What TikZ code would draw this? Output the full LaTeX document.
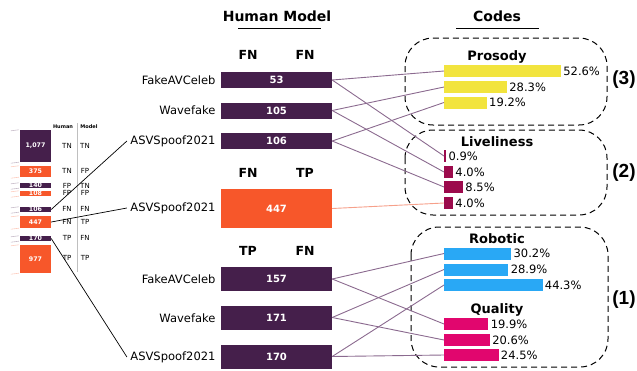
\documentclass[tikz,border=0pt]{standalone}
\usepackage{fontspec}
\setmainfont{DejaVu Sans}
\newfontfamily\tagfont{Liberation Sans}

\definecolor{plum}{HTML}{451F4B}
\definecolor{flame}{HTML}{F7572A}
\definecolor{lemon}{HTML}{F2E43E}
\definecolor{wine}{HTML}{9C0A4C}
\definecolor{sky}{HTML}{29A8F5}
\definecolor{rose}{HTML}{E1066E}
\definecolor{wire}{HTML}{8B6A8F}
\definecolor{peach}{HTML}{F6A08A}

\tikzset{
	title/.style={font=\bfseries\fontsize{14}{14}\selectfont},
	head/.style={font=\bfseries\fontsize{12.5}{12.5}\selectfont},
	group/.style={font=\bfseries\fontsize{13}{13}\selectfont},
	tag/.style={font=\tagfont\bfseries\fontsize{19}{19}\selectfont},
	dset/.style={anchor=east, font=\fontsize{11.5}{12}\selectfont},
	mainbar/.style={minimum width=111pt, inner sep=0pt, text=white, font=\bfseries\fontsize{10}{10}\selectfont},
	codebar/.style={anchor=west, minimum height=12pt, inner sep=0pt},
	pct/.style={font=\fontsize{11.5}{12}\selectfont, inner sep=2pt},
	wire/.style={draw=wire, line width=0.9pt},
	codebox/.style={draw, line width=1pt, dash pattern=on 6pt off 4pt, rounded corners=28pt},
	minibar/.style={minimum width=31pt, inner sep=0pt, text=white, font=\bfseries\fontsize{6.3}{6.3}\selectfont},
	mini/.style={font=\fontsize{7}{7}\selectfont, inner sep=0pt},
	minihead/.style={font=\bfseries\fontsize{5}{5}\selectfont, inner sep=0pt},
	tick/.style={line width=0.6pt}
}

\begin{document}
\begin{tikzpicture}[x=1pt,y=-1pt]
	\useasboundingbox (0,0) rectangle (637,370);

	% small overview chart
	\node[minibar, fill=plum, minimum height=32pt] (m1077) at (35.5,146) {1,077};
	\node[minibar, fill=flame, minimum height=11pt] (m375) at (35.5,171.5) {375};
	\node[minibar, fill=plum, minimum height=5pt] (m140) at (35.5,185.5) {140};
	\node[minibar, fill=flame, minimum height=5pt] (m108) at (35.5,193.5) {108};
	\node[minibar, fill=plum, minimum height=5pt] (m106) at (35.5,209.5) {106};
	\node[minibar, fill=flame, minimum height=12pt] (m447) at (35.5,222) {447};
	\node[minibar, fill=plum, minimum height=5pt] (m170) at (35.5,238.5) {170};
	\node[minibar, fill=flame, minimum height=28pt] (m977) at (35.5,259) {977};

	\foreach \m/\c in {m1077/plum, m375/flame, m140/plum, m108/flame, m106/plum, m447/flame, m170/plum, m977/flame}
	{
		\draw[tick, \c!30] (\m.north west) ++(-9,1) -- ++(8,-1);
		\draw[tick, \c!30] (\m.south west) ++(-9,1) -- ++(8,-1);
	}

	\draw[gray!50, line width=0.6pt] (77,123) -- (77,272);
	\node[minihead] (hhum) at (63,127) {Human};
	\node[minihead] (hmod) at (89,127) {Model};
	\foreach \y/\h/\m [count=\i] in {146/TN/TN, 171/TN/FP, 186/FP/TN, 193/FP/FP, 209/FN/FN, 222/FN/TP, 238/TP/FN, 258/TP/TP}
	{
		\node[mini] (hum\i) at (67,\y) {\h};
		\node[mini] (mod\i) at (85,\y) {\m};
	}

	% human / model columns
	\node[title] (humanmodel) at (277,16) {Human Model};
	\draw[line width=0.9pt] (238,28) -- (321,28);

	\node[head] (h1a) at (248,55) {FN};
	\node[head] (h1b) at (305,55) {FN};
	\node[dset] (fake1) at (219,80) {FakeAVCeleb};
	\node[dset] (wave1) at (219,110) {Wavefake};
	\node[dset] (asv1) at (219,141) {ASVSpoof2021};
	\node[mainbar, fill=plum, minimum height=16pt] (b53) at (276.5,80) {53};
	\node[mainbar, fill=plum, minimum height=16pt] (b105) at (276.5,110.5) {105};
	\node[mainbar, fill=plum, minimum height=16pt] (b106) at (276.5,141) {106};

	\node[head] (h2a) at (248,173) {FN};
	\node[head] (h2b) at (305,173) {TP};
	\node[dset] (asv2) at (219,208) {ASVSpoof2021};
	\node[mainbar, fill=flame, minimum height=39pt] (b447) at (276.5,208.5) {447};

	\node[head] (h3a) at (248,251) {TP};
	\node[head] (h3b) at (305,251) {FN};
	\node[dset] (fake3) at (219,279) {FakeAVCeleb};
	\node[dset] (wave3) at (219,318) {Wavefake};
	\node[dset] (asv3) at (219,357) {ASVSpoof2021};
	\node[mainbar, fill=plum, minimum height=24pt] (b157) at (276.5,279) {157};
	\node[mainbar, fill=plum, minimum height=24pt] (b171) at (276.5,317.5) {171};
	\node[mainbar, fill=plum, minimum height=24pt] (b170) at (276.5,356.5) {170};

	\draw[line width=0.7pt] (m106.east) -- (asv1.west);
	\draw[line width=0.7pt] (m447.east) -- (asv2.west);
	\draw[line width=0.7pt] (m170.east) -- (asv3.west);

	% codes
	\node[title] (codes) at (497,16) {Codes};
	\draw[line width=0.9pt] (456,28) -- (539,28);

	\draw[codebox] (405,38) rectangle (607,125);
	\draw[codebox] (405,130) rectangle (607,215);
	\draw[codebox] (411,227) rectangle (608,367);

	\node[group] (prosody) at (497,57) {Prosody};
	\node[group] (liveliness) at (497,142) {Liveliness};
	\node[group] (robotic) at (497,239) {Robotic};
	\node[group] (quality) at (497,310) {Quality};

	\node[tag] (t3) at (624,80) {(3)};
	\node[tag] (t2) at (624,173) {(2)};
	\node[tag] (t1) at (624,300) {(1)};

	\foreach \n/\y/\p/\c in {pr1/71/52.6/lemon, pr2/87/28.3/lemon, pr3/102.5/19.2/lemon,
		lv1/156/0.9/wine, lv2/172/4.0/wine, lv3/187/8.5/wine, lv4/203/4.0/wine,
		rb1/253.5/30.2/sky, rb2/269.5/28.9/sky, rb3/285/44.3/sky,
		ql1/324/19.9/rose, ql2/340/20.6/rose, ql3/355/24.5/rose}
	{
		\pgfmathsetmacro\w{2.22*\p}
		\node[codebar, fill=\c, minimum width=\w pt, label={[pct]right:\p\%}] (\n) at (444,\y) {};
	}

	\draw[wire] (b53.east) -- (pr1.west);
	\draw[wire] (b53.east) -- (lv1.west);
	\draw[wire] (b105.east) -- (pr2.west);
	\draw[wire] (b105.east) -- (lv2.west);
	\draw[wire] (b106.east) -- (pr3.west);
	\draw[wire] (b106.east) -- (lv3.west);
	\draw[draw=peach, line width=0.9pt] (b447.east) -- (lv4.west);
	\draw[wire] (b157.east) -- (rb1.west);
	\draw[wire] (b157.east) -- (ql1.west);
	\draw[wire] (b171.east) -- (rb2.west);
	\draw[wire] (b171.east) -- (ql2.west);
	\draw[wire] (b170.east) -- (rb3.west);
	\draw[wire] (b170.east) -- (ql3.west);
\end{tikzpicture}
\end{document}
